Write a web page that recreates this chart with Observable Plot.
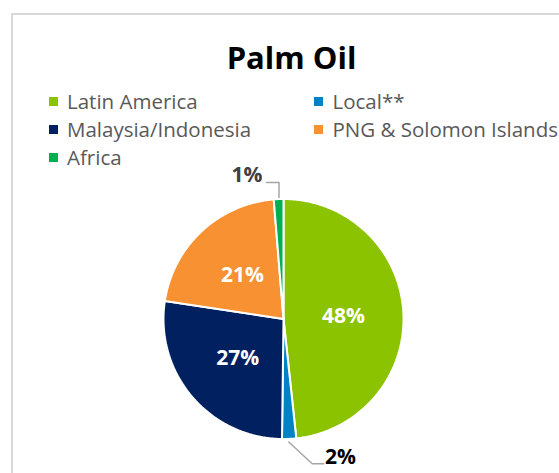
<!DOCTYPE html>
<html>
<head>
<meta charset="utf-8">
<script src="https://cdn.jsdelivr.net/npm/d3@7"></script>
<script src="https://cdn.jsdelivr.net/npm/@observablehq/plot@0.6"></script>
<style>
  html, body { margin: 0; padding: 0; background: #fff; }
  #wrap { position: relative; width: 559px; height: 473px; overflow: hidden; font-family: "Open Sans", sans-serif; }
  #frame { position: absolute; left: 11px; top: 13px; width: 700px; height: 600px; border: 2px solid #d9d9d9; box-sizing: border-box; }
  #title { position: absolute; left: 0; width: 583px; top: 42px; text-align: center; font-weight: bold; font-size: 31px; color: #000; line-height: 31px; }
  .lg { position: absolute; font-size: 20.5px; color: #595959; white-space: nowrap; line-height: 20.5px; }
  .sw { position: absolute; width: 9px; height: 9px; }
  #chart { position: absolute; left: 0; top: 0; }
</style>
</head>
<body>
<div id="wrap">
  <div id="frame"></div>
  <div id="title">Palm Oil</div>
  <div id="legend"></div>
  <div id="chart"></div>
</div>
<script>
const regions = ["Latin America", "Local**", "Malaysia/Indonesia", "PNG & Solomon Islands", "Africa"];
const shares = [48.3, 1.9, 27.2, 21.3, 1.3];
const labels = ["48%", "2%", "27%", "21%", "1%"];
const colors = ["#8cc300", "#0083c6", "#002060", "#f79132", "#00b050"];

// legend layout (two columns, Excel style): marker left, text baseline
const legendPos = [[48.5, 109.3], [314, 109.3], [48.5, 137.3], [314, 137.3], [48.5, 165]];
const legendEl = document.getElementById("legend");
regions.forEach((name, i) => {
  const [x, base] = legendPos[i];
  const sw = document.createElement("div");
  sw.className = "sw";
  sw.style.left = x + "px";
  sw.style.top = (base - 12) + "px";
  sw.style.background = colors[i];
  legendEl.appendChild(sw);
  const t = document.createElement("div");
  t.className = "lg";
  t.style.left = (x + 18.5) + "px";
  t.style.top = (base - 18.2) + "px";
  t.textContent = name;
  legendEl.appendChild(t);
});

// pie geometry in data units (radius = 1), y up
const W = 559, H = 473, cx = 283, cy = 318.5, R = 120;
const arcs = d3.pie().sort(null).value(d => d)(shares);
const slicePts = [];
arcs.forEach((a, i) => {
  const n = Math.max(4, Math.ceil((a.endAngle - a.startAngle) / 0.01));
  slicePts.push({region: regions[i], x: 0, y: 0});
  for (let k = 0; k <= n; k++) {
    const t = a.startAngle + (a.endAngle - a.startAngle) * k / n;
    slicePts.push({region: regions[i], x: Math.sin(t), y: Math.cos(t)});
  }
  slicePts.push({region: regions[i], x: 0, y: 0});
});

// inner labels (large slices) at half radius
const inner = arcs.map((a, i) => {
  const m = (a.startAngle + a.endAngle) / 2;
  return {label: labels[i], x: 0.5 * Math.sin(m), y: 0.5 * Math.cos(m), share: shares[i]};
}).filter(d => d.share > 5);

// outside labels with leader lines for the small slices
const px = (X) => (X - cx) / R, py = (Y) => (cy - Y) / R;
const outside = [
  {label: labels[4], x: px(246.5), y: py(174.5), color: "#404040"},
  {label: labels[1], x: px(340), y: py(456.3), color: "#000000"}
];
const leaders = [
  {id: "a", x: px(266), y: py(182)}, {id: "a", x: px(278.5), y: py(182)}, {id: "a", x: px(278.5), y: py(197)},
  {id: "b", x: px(288.3), y: py(441.5)}, {id: "b", x: px(311.7), y: py(463.3)}, {id: "b", x: px(323.3), y: py(463.3)}
];

const chart = Plot.plot({
  width: W, height: H,
  margin: 0,
  x: {domain: [-cx / R, (W - cx) / R], axis: null},
  y: {domain: [-(H - cy) / R, cy / R], axis: null},
  color: {domain: regions, range: colors},
  marks: [
    Plot.line(slicePts, {x: "x", y: "y", z: "region", fill: "region", stroke: "white", strokeWidth: 2, strokeLinejoin: "miter", curve: "linear"}),
    Plot.line(leaders, {x: "x", y: "y", z: "id", stroke: "#a6a6a6", strokeWidth: 1.5}),
    Plot.text(inner, {x: "x", y: "y", text: "label", fill: "white", fontWeight: "bold", fontSize: 21, fontFamily: "Open Sans"}),
    Plot.text(outside, {x: "x", y: "y", text: "label", fill: d => d.color, fontWeight: "bold", fontSize: 21, fontFamily: "Open Sans"})
  ]
});
document.getElementById("chart").appendChild(chart);
</script>
</body>
</html>
